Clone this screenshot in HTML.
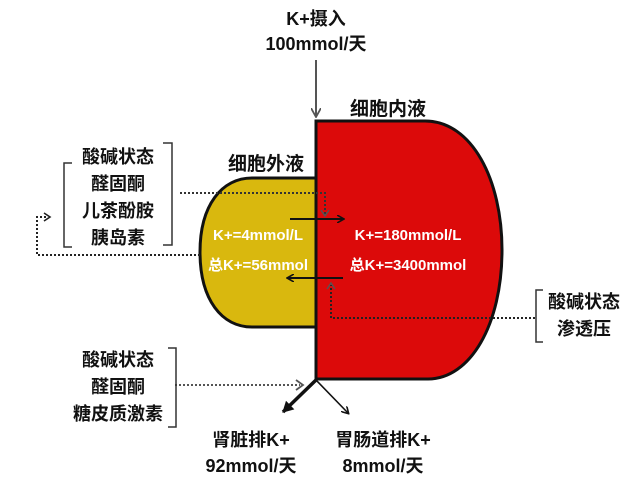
<!DOCTYPE html>
<html><head><meta charset="utf-8"><style>
html,body{margin:0;padding:0;background:#fff;}
svg{display:block;}
text{font-family:"Liberation Sans","Noto Sans CJK SC",sans-serif;font-weight:bold;}
</style></head><body>
<svg width="640" height="484" viewBox="0 0 640 484" xmlns="http://www.w3.org/2000/svg">
<defs>
<marker id="ab" markerWidth="8" markerHeight="8" refX="6" refY="4" orient="auto" markerUnits="userSpaceOnUse"><path d="M0,0 L7,4 L0,8" fill="none" stroke="#111" stroke-width="1.6"/></marker>
<marker id="ag" markerWidth="10" markerHeight="10" refX="8" refY="5" orient="auto" markerUnits="userSpaceOnUse"><path d="M0,0 L9,5 L0,10" fill="none" stroke="#555" stroke-width="1.8"/></marker>
<marker id="ak" markerWidth="12" markerHeight="12" refX="10" refY="6" orient="auto" markerUnits="userSpaceOnUse"><path d="M0,0 L11,6 L0,12 Z" fill="#111"/></marker>
</defs>
<path d="M316,178 H252 C222,178 200,205 200,252 C200,300 222,327 252,327 H316 Z" fill="#d9b80e" stroke="#111" stroke-width="3"/>
<path d="M316,121 H425 C472,121 502,180 502,250 C502,325 470,379 428,379 H316 Z" fill="#dc0a0a" stroke="#111" stroke-width="3"/>
<line x1="316" y1="120" x2="316" y2="380" stroke="#111" stroke-width="3"/>
<line x1="316" y1="60" x2="316" y2="116" stroke="#555" stroke-width="2" marker-end="url(#ag)"/>
<line x1="316" y1="380" x2="283" y2="412" stroke="#111" stroke-width="3.5" marker-end="url(#ak)"/>
<line x1="316" y1="380" x2="348" y2="413" stroke="#111" stroke-width="1.6" marker-end="url(#ab)"/>
<line x1="290" y1="219" x2="343" y2="219" stroke="#111" stroke-width="2" marker-end="url(#ab)"/>
<line x1="343" y1="278" x2="288" y2="278" stroke="#111" stroke-width="2" marker-end="url(#ab)"/>
<g fill="none" stroke="#222" stroke-width="2" stroke-dasharray="2,2">
<path d="M180,193 H325 V214" stroke="#333"/>
<path d="M535,318 H331 V285"/>
<path d="M200,255 H37 V217 H48"/>
<path d="M175,385 H300" stroke="#555"/>
</g>
<path d="M321,210 L325,216 L329,210" fill="none" stroke="#555" stroke-width="1.4"/>
<path d="M327,289 L331,283 L335,289" fill="none" stroke="#555" stroke-width="1.4"/>
<path d="M44,213 L50,217 L44,221" fill="none" stroke="#222" stroke-width="1.6"/>
<path d="M296,380 L303,385 L296,390" fill="none" stroke="#555" stroke-width="1.8"/>
<g fill="none" stroke="#333" stroke-width="1.5">
<path d="M163,143 H172 V245 H163"/>
<path d="M72,163 H64 V247 H72"/>
<path d="M168,348 H176 V427 H168"/>
<path d="M543,290 H536 V342 H543"/>
</g>
<g font-size="18" fill="#111" text-anchor="middle">
<text x="316" y="25">K+摄入</text>
<text x="316" y="50">100mmol/天</text>
<text x="388" y="115" font-size="19">细胞内液</text>
<text x="266" y="170" font-size="19">细胞外液</text>
<text x="118" y="163">酸碱状态</text>
<text x="118" y="190">醛固酮</text>
<text x="118" y="217">儿茶酚胺</text>
<text x="118" y="244">胰岛素</text>
<text x="584" y="308">酸碱状态</text>
<text x="584" y="335">渗透压</text>
<text x="118" y="366">酸碱状态</text>
<text x="118" y="393">醛固酮</text>
<text x="118" y="420">糖皮质激素</text>
<text x="251" y="446">肾脏排K+</text>
<text x="383" y="446">胃肠道排K+</text>
<text x="251" y="472">92mmol/天</text>
<text x="383" y="472">8mmol/天</text>
</g>
<g font-size="15" fill="#fff" text-anchor="middle">
<text x="258" y="240">K+=4mmol/L</text>
<text x="258" y="270">总K+=56mmol</text>
<text x="408" y="240">K+=180mmol/L</text>
<text x="408" y="270">总K+=3400mmol</text>
</g>
</svg>
</body></html>
